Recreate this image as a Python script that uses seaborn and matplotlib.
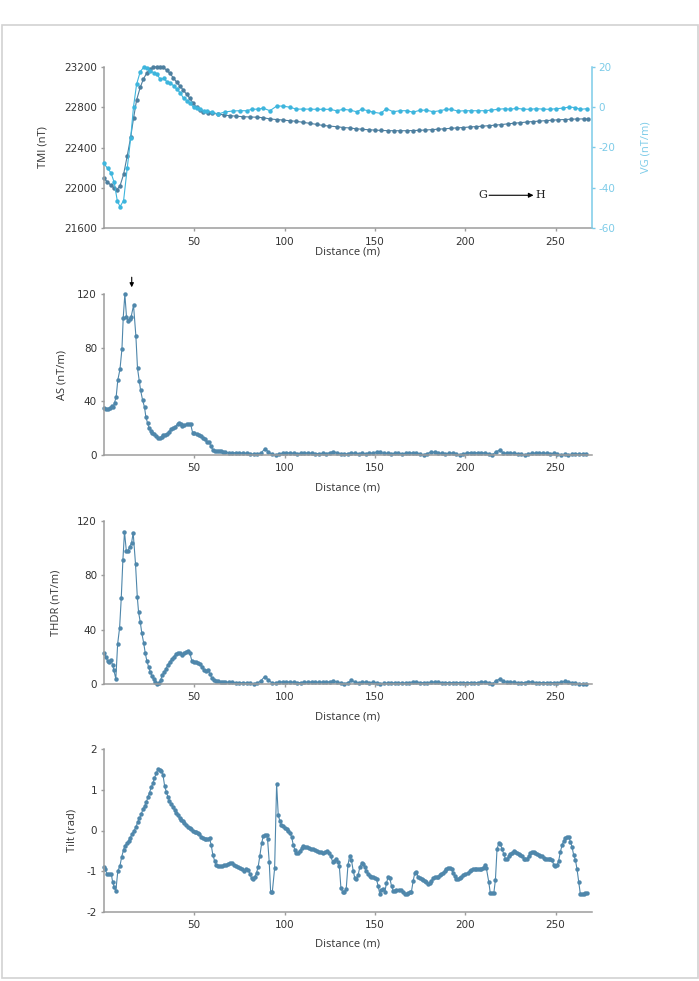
import matplotlib
matplotlib.use("Agg")
import matplotlib.pyplot as plt
from matplotlib.patches import Rectangle
import seaborn as sns
import numpy as np

# ---------------- data ----------------
tmi_x = [0, 1.8, 3.7, 5.5, 7.0, 8.9, 10.9, 12.9, 14.8, 16.4, 18.1, 20.1, 21.8, 23.6, 25.5, 27.3,
         29.2, 31.0, 32.8, 34.7, 36.5, 38.4, 40.2, 42.1, 43.9, 45.8, 47.6, 49.4, 51.3, 53.1, 55.0,
         57.5, 60, 63.3, 66.5, 69.7, 73.3, 77, 80.8, 84.5, 88.2, 92, 95.6, 99, 102.8, 106.6, 110.3,
         114, 117.7, 121, 124.8, 128.8, 132.5, 136, 139.5, 143, 146.5, 150, 153.5, 157, 160.5, 164,
         167.5, 171, 174.5, 178, 181.5, 185, 188.5, 192, 195.5, 199, 202.5, 206, 209.5, 213, 216.5,
         220, 223.5, 227, 230.5, 234, 237.5, 241, 244.5, 248, 251.5, 255, 258.5, 262, 265.5, 268]
tmi_v = [22095, 22062, 22029, 22002, 21979, 22019, 22134, 22316, 22500, 22689, 22870, 22995, 23075,
         23134, 23174, 23193, 23200, 23200, 23193, 23167, 23134, 23091, 23048, 23009, 22969, 22926,
         22887, 22837, 22797, 22771, 22751, 22742, 22737, 22732, 22722, 22715, 22710, 22705, 22702,
         22700, 22695, 22682, 22677, 22672, 22665, 22659, 22649, 22639, 22629, 22619, 22612, 22606,
         22598, 22593, 22586, 22580, 22576, 22572, 22569, 22567, 22566, 22566, 22566, 22568, 22570,
         22573, 22577, 22581, 22585, 22590, 22594, 22598, 22603, 22607, 22611, 22616, 22621, 22627,
         22634, 22640, 22646, 22652, 22657, 22661, 22666, 22670, 22674, 22677, 22680, 22682, 22683,
         22682]

vg_x = [0, 2.0, 3.9, 5.7, 7.4, 8.9, 10.9, 12.9, 14.8, 16.4, 18.1, 20.1, 22.0, 23.8, 25.6, 27.5, 29.3,
        31.2, 33.0, 34.9, 36.7, 38.6, 40.4, 42.3, 44.1, 46.0, 47.8, 49.6, 51.5, 53.3, 55.2, 57.0, 59.6,
        63.3, 67, 71.6, 75.3, 79, 81.7, 85.4, 88.2, 91.9, 95.6, 99.3, 103, 106.6, 110.3, 114, 117.7,
        121.4, 125, 128.8, 132.5, 136.2, 139.9, 142.6, 146.3, 149, 153.1, 156.4, 160.1, 163.8, 167.5,
        171.1, 174.8, 178.5, 182.2, 185.9, 189.6, 192.3, 196, 199.7, 203.4, 207.1, 210.7, 214.4, 218.1,
        221.8, 225, 228.3, 232, 235.7, 239.4, 243, 246.7, 250.4, 254.1, 257.4, 260.6, 263.7, 267.4]
vg_v = [-27.9, -30.3, -32.5, -37.3, -46.3, -49.3, -46.3, -30.3, -15.5, 0.2, 11.3, 17.5, 19.7, 19.2,
        18.0, 17.0, 16.4, 13.7, 14.2, 12.6, 11.8, 10.6, 8.8, 7.1, 4.3, 3.2, 1.9, -0.1, -0.6, -1.1, -2.1,
        -1.9, -2.4, -3.4, -2.4, -1.9, -1.8, -1.8, -1.1, -1.0, -0.5, -1.8, 0.5, 0.5, -0.1, -1.0, -1.0,
        -1.0, -1.1, -1.1, -1.1, -1.8, -1.1, -1.5, -2.3, -1.1, -1.8, -2.5, -3.1, -0.8, -2.3, -1.8, -1.8,
        -2.5, -1.6, -1.5, -2.3, -1.8, -1.1, -1.1, -2.0, -1.8, -1.8, -1.8, -1.8, -1.5, -1.1, -0.8, -1.1,
        -0.6, -1.0, -1.1, -0.8, -1.0, -1.1, -0.8, -0.5, 0.0, -0.2, -1.1, -0.8]

as_x = [0, 1.1, 2.2, 3.3, 4.4, 5.2, 5.9, 6.8, 7.7, 8.9, 10.0, 10.7, 11.6, 12.5, 13.5, 14.2, 15.1, 16.4,
        17.7, 18.6, 19.6, 20.3, 21.4, 22.5, 23.2, 24.2, 25.1, 26.0, 26.9, 27.9, 28.8, 29.9, 30.8, 31.9,
        32.8, 33.9, 35.1, 36.2, 37.1, 38.4, 39.5, 40.8, 41.7, 42.6, 43.5, 44.6, 45.8, 47.0, 48.0, 49.1,
        50.0, 51.3, 52.4, 53.5, 54.6, 55.7, 56.8, 58.1, 59.2, 60.3, 61.4, 62.5, 63.8, 64.9, 66.1,
        67, 69, 71, 73, 75, 77, 79, 81, 83, 85, 87, 89, 91, 93, 95, 97, 99, 101, 103, 105, 107, 109,
        111, 113, 115, 117, 119, 121, 123, 125, 127, 129, 131, 133, 135, 137, 139, 141, 143, 145, 147,
        149, 151, 153, 155, 157, 159, 161, 163, 165, 167, 169, 171, 173, 175, 177, 179, 181, 183, 185,
        187, 189, 191, 193, 195, 197, 199, 201, 203, 205, 207, 209, 211, 213, 215, 217, 219, 221, 223,
        225, 227, 229, 231, 233, 235, 237, 239, 241, 243, 245, 247, 249, 251, 253, 255, 257, 259, 261,
        263, 265, 267]
as_v = [35.3, 34.3, 34.0, 35.3, 36.5, 36.0, 39.0, 43.5, 55.9, 63.9, 79.3, 102.4, 119.8, 103.1, 99.9,
        101.4, 103.1, 111.6, 88.7, 64.6, 55.2, 48.4, 41.0, 35.5, 28.6, 23.6, 19.9, 17.9, 16.6, 15.4,
        14.2, 12.9, 12.4, 13.7, 14.7, 15.2, 15.9, 17.4, 19.4, 20.1, 21.1, 23.1, 24.1, 23.1, 21.6, 22.4,
        23.1, 23.1, 23.1, 16.6, 16.1, 15.7, 15.2, 14.2, 12.9, 11.7, 9.9, 9.9, 6.7, 3.7, 3.2, 3.0, 3.0,
        2.7, 2.2,
        2.0, 1.7, 1.7, 1.7, 1.5, 1.5, 1.2, 0.8, 0.5, 0.8, 1.5, 4.5, 2.5, 0.5, 0.0, 0.5, 1.5, 1.7, 1.5,
        1.2, 1.0, 1.2, 1.5, 1.5, 1.2, 1.0, 1.0, 1.2, 1.0, 1.7, 2.5, 1.7, 1.0, 0.5, 1.0, 1.5, 1.2, 1.0,
        1.2, 1.0, 1.2, 1.5, 2.2, 2.0, 1.2, 1.2, 1.0, 1.2, 1.2, 1.0, 1.2, 1.2, 1.7, 1.7, 0.5, 0.2, 1.0,
        2.2, 2.0, 1.2, 1.2, 1.0, 1.2, 1.5, 0.5, 0.2, 0.7, 1.7, 1.7, 1.7, 1.7, 1.7, 1.5, 1.0, 0.0, 2.5,
        3.5, 1.7, 1.2, 1.5, 1.2, 1.0, 0.5, 0.0, 0.5, 1.5, 1.2, 1.2, 1.5, 1.2, 1.0, 1.2, 0.5, 0.3, 0.5,
        0.0, 0.5, 0.7, 0.7, 0.7, 0.5]

thdr_x = [0, 1.1, 2.0, 3.0, 3.9, 4.8, 5.5, 6.6, 7.6, 8.7, 9.6, 10.5, 11.4, 12.4, 13.3, 14.2, 15.3, 16.2,
          17.5, 18.5, 19.2, 20.1, 21.0, 22.0, 22.9, 23.8, 24.7, 25.6, 26.6, 27.5, 28.4, 29.3, 30.3,
          31.4, 32.3, 33.4, 34.3, 35.4, 36.5, 37.6, 38.7, 39.9, 41.0, 42.1, 43.2, 44.3, 45.4, 46.5,
          47.6, 48.7, 49.8, 50.9, 52.0, 53.1, 54.2, 55.4, 56.5, 57.6, 58.7, 59.8, 60.9, 62.0, 63.1,
          64.6, 66.1,
          67, 69, 71, 73, 75, 77, 79, 81, 83, 85, 87, 89, 91, 93, 95, 97, 99, 101, 103, 105, 107, 109,
          111, 113, 115, 117, 119, 121, 123, 125, 127, 129, 131, 133, 135, 137, 139, 141, 143, 145,
          147, 149, 151, 153, 155, 157, 159, 161, 163, 165, 167, 169, 171, 173, 175, 177, 179, 181,
          183, 185, 187, 189, 191, 193, 195, 197, 199, 201, 203, 205, 207, 209, 211, 213, 215, 217,
          219, 221, 223, 225, 227, 229, 231, 233, 235, 237, 239, 241, 243, 245, 247, 249, 251, 253,
          255, 257, 259, 261, 263, 265, 267]
thdr_v = [22.6, 20.1, 16.9, 16.4, 17.7, 14.0, 10.3, 3.7, 29.4, 41.5, 63.1, 91.0, 112.1, 98.2, 97.9,
          101.1, 103.6, 111.4, 88.3, 63.8, 52.8, 45.9, 37.3, 30.4, 22.6, 16.9, 12.8, 9.1, 5.9, 3.4, 1.2,
          0.2, 1.0, 2.9, 6.6, 8.6, 11.0, 14.0, 16.4, 18.4, 20.1, 22.1, 23.1, 22.6, 21.3, 22.6, 23.8,
          24.5, 22.6, 16.9, 16.4, 16.0, 15.2, 14.5, 12.8, 10.3, 9.6, 10.3, 7.4, 4.2, 2.9, 2.5, 2.0, 1.7,
          1.5,
          1.5, 1.2, 1.2, 1.0, 1.0, 0.8, 0.7, 0.5, 0.3, 0.7, 2.5, 5.5, 3.0, 0.8, 0.5, 1.2, 1.7, 1.5, 1.5,
          1.2, 1.0, 1.0, 1.2, 1.5, 1.5, 1.2, 1.2, 1.5, 1.2, 1.7, 2.2, 1.5, 0.5, 0.3, 1.0, 2.7, 1.5, 0.5,
          1.5, 1.2, 1.0, 1.2, 1.0, 0.3, 0.5, 0.7, 1.0, 0.7, 0.7, 0.7, 0.7, 1.0, 1.5, 1.5, 1.0, 1.0, 1.0,
          1.2, 1.5, 1.5, 1.0, 1.0, 1.0, 1.0, 1.0, 1.0, 1.0, 1.0, 1.0, 1.0, 1.0, 1.2, 1.7, 1.0, 0.0, 2.5,
          3.5, 2.0, 1.5, 1.7, 1.2, 1.0, 1.0, 1.0, 1.7, 1.5, 1.0, 1.0, 1.0, 1.0, 1.0, 1.0, 1.0, 1.2, 2.0,
          1.5, 1.0, 0.5, 0.3, 0.2, 0.2]

tilt_x = [0, 0.7, 1.8, 3.0, 4.1, 4.8, 5.7, 6.6, 7.7, 8.9, 9.8, 10.9, 11.8, 12.7, 13.7, 14.6, 15.5, 16.6,
          17.7, 18.8, 19.7, 20.7, 21.6, 22.5, 23.4, 24.4, 25.3, 26.2, 27.1, 28.0, 29.0, 29.9, 30.8,
          31.7, 32.7, 33.6, 34.5, 35.4, 36.3, 37.3, 38.2, 39.1, 40.0, 41.0, 41.9, 42.8, 43.7, 44.6,
          45.6, 46.5, 47.4, 48.3, 49.3, 50.2, 51.1, 52.0, 52.9, 53.9, 54.8, 55.7, 56.6, 57.6, 58.5,
          59.4, 60.3, 61.3, 62.2, 63.1, 64.2, 65.3, 66.4, 67.5, 68.6, 69.7, 70.8, 72.0, 73.1, 74.2,
          75.3, 76.4, 77.5, 78.6, 79.7, 80.8, 81.7, 82.7, 83.6, 84.5, 85.4, 86.3, 87.3, 88.2, 89.1,
          90.0, 90.6, 91.5, 92.3, 93.2, 94.5, 95.6, 96.5, 97.4, 98.3, 99.3, 100.2, 101.1, 102.0, 102.9,
          103.9, 104.8, 105.7, 106.6, 107.6, 108.5, 109.4, 110.3, 111.4, 112.5, 113.7, 114.8, 115.9,
          117.0, 118.1, 119.2, 120.3, 121.4, 122.5, 123.6, 124.7, 125.6, 126.6, 127.5, 128.4, 129.5,
          130.3, 131.2, 132.2, 133.1, 134.1, 135.1, 136.0, 137.0, 138.0, 138.9, 139.8, 140.7, 141.7,
          142.6, 143.5, 144.4, 145.3, 146.3, 147.2, 148.1, 149.0, 150.0, 150.9, 151.8, 152.7, 153.6,
          154.6, 155.5, 156.4, 157.3, 158.3, 159.2, 160.1, 161.0, 161.9, 163.2, 164.7, 165.6, 166.5,
          167.5, 168.4, 169.3, 170.2, 171.2, 172.1, 173.0, 173.9, 174.8, 175.8, 176.7, 177.6, 178.5,
          179.5, 180.4, 181.3, 182.2, 183.1, 184.1, 185.0, 185.9, 186.8, 187.8, 188.7, 189.6, 190.5,
          191.4, 192.4, 193.3, 194.2, 195.1, 196.1, 197.0, 197.9, 198.8, 199.7, 201.6, 202.5, 203.4,
          204.3, 205.3, 206.2, 207.1, 208.0, 209.0, 209.9, 210.8, 211.7, 213.0, 213.9, 214.9, 215.8,
          216.7, 217.6, 218.5, 219.5, 220.4, 221.3, 222.2, 223.2, 224.1, 225.0, 225.9, 226.8, 227.8,
          228.7, 229.6, 230.5, 231.4, 232.4, 233.3, 234.2, 235.1, 236.1, 237.0, 237.9, 238.8, 239.7,
          240.7, 241.6, 242.5, 243.4, 244.4, 245.3, 246.2, 247.1, 248.1, 249.0, 249.9, 250.8, 251.7,
          252.7, 253.6, 254.5, 255.4, 256.4, 257.3, 258.2, 259.1, 260.0, 261.0, 261.9, 262.8, 263.7,
          264.7, 265.6, 266.5, 267.4]
tilt_v = [-0.89, -0.96, -1.08, -1.08, -1.07, -1.26, -1.40, -1.49, -1.00, -0.87, -0.66, -0.47, -0.37,
          -0.32, -0.25, -0.18, -0.09, -0.01, 0.08, 0.22, 0.30, 0.41, 0.52, 0.60, 0.69, 0.82, 0.93, 1.06,
          1.16, 1.30, 1.41, 1.51, 1.48, 1.46, 1.37, 1.10, 0.96, 0.83, 0.73, 0.65, 0.57, 0.51, 0.44, 0.37,
          0.30, 0.26, 0.24, 0.19, 0.14, 0.09, 0.05, 0.03, -0.01, -0.04, -0.04, -0.05, -0.09, -0.15,
          -0.19, -0.21, -0.22, -0.20, -0.19, -0.36, -0.60, -0.75, -0.85, -0.87, -0.87, -0.87, -0.86,
          -0.84, -0.83, -0.79, -0.81, -0.85, -0.87, -0.91, -0.93, -0.96, -0.99, -0.96, -0.97, -1.06,
          -1.18, -1.20, -1.14, -1.04, -0.89, -0.63, -0.32, -0.14, -0.11, -0.11, -0.22, -0.77, -1.52,
          -1.52, -0.93, 1.15, 0.38, 0.23, 0.14, 0.10, 0.07, 0.04, 0.00, -0.05, -0.16, -0.35, -0.48,
          -0.55, -0.55, -0.50, -0.44, -0.38, -0.40, -0.41, -0.44, -0.46, -0.46, -0.48, -0.50, -0.52,
          -0.54, -0.55, -0.53, -0.50, -0.55, -0.64, -0.77, -0.75, -0.71, -0.77, -0.87, -1.42, -1.52,
          -1.52, -1.45, -0.85, -0.63, -0.73, -0.99, -1.18, -1.20, -1.10, -0.89, -0.81, -0.83, -0.91,
          -0.99, -1.06, -1.11, -1.14, -1.15, -1.18, -1.20, -1.37, -1.56, -1.47, -1.45, -1.51, -1.30,
          -1.14, -1.18, -1.37, -1.48, -1.49, -1.47, -1.47, -1.47, -1.51, -1.56, -1.57, -1.55, -1.52,
          -1.51, -1.24, -1.04, -1.01, -1.14, -1.18, -1.20, -1.22, -1.24, -1.28, -1.32, -1.30, -1.24,
          -1.18, -1.15, -1.15, -1.14, -1.10, -1.07, -1.04, -0.99, -0.96, -0.93, -0.93, -0.96, -1.04,
          -1.12, -1.20, -1.20, -1.18, -1.14, -1.10, -1.07, -1.04, -1.00, -0.97, -0.96, -0.94, -0.94,
          -0.94, -0.94, -0.94, -0.92, -0.85, -0.93, -1.26, -1.55, -1.55, -1.55, -1.22, -0.46, -0.32,
          -0.34, -0.46, -0.58, -0.69, -0.70, -0.63, -0.58, -0.55, -0.51, -0.52, -0.55, -0.58, -0.60,
          -0.64, -0.69, -0.71, -0.70, -0.63, -0.56, -0.52, -0.53, -0.56, -0.59, -0.61, -0.63, -0.64,
          -0.67, -0.69, -0.71, -0.71, -0.71, -0.73, -0.85, -0.87, -0.85, -0.75, -0.52, -0.36, -0.26,
          -0.18, -0.15, -0.15, -0.28, -0.40, -0.60, -0.73, -0.96, -1.26, -1.56, -1.57, -1.56, -1.55,
          -1.55]

x_ticks = [50, 100, 150, 200, 250]

# ---------------- style ----------------
sns.set_style("ticks")
plt.rcParams["font.family"] = ["DejaVu Sans"]
plt.rcParams["axes.unicode_minus"] = False

W, H = 699, 981
fig = plt.figure(figsize=(W / 100, H / 100), dpi=100)
fig.patches.append(Rectangle((1.5 / W, 1 - 978 / H), 696 / W, (978 - 25) / H,
                             transform=fig.transFigure, fill=False, ec="#d2d2d2", lw=1.2))

DARK = "#4f87ab"
DARK_TMI = "#4d7f9f"
CYAN = "#3db5dd"
VGAX = "#7ccbe8"
SPINE = "#9c9c9c"
TXT = "#333333"
LABFONT = dict(family=["Open Sans", "DejaVu Sans"], size=8, color=TXT)
TICKSIZE = 7.5

left, right = 103.9, 591.7


def make_ax(top_px, bot_px):
    ax = fig.add_axes([left / W, 1 - bot_px / H, (right - left) / W, (bot_px - top_px) / H])
    for s in ["top", "right"]:
        ax.spines[s].set_visible(False)
    for s in ["left", "bottom"]:
        ax.spines[s].set_color(SPINE)
        ax.spines[s].set_linewidth(1.1)
    ax.tick_params(axis="both", colors=SPINE, labelcolor=TXT, labelsize=TICKSIZE, width=1, length=2.5)
    ax.tick_params(axis="y", pad=2.5)
    ax.tick_params(axis="x", pad=3.5)
    ax.set_xlim(0, 270)
    ax.set_xticks(x_ticks)
    return ax


def finish(ax, ylabel, label_cx, top_px, bot_px, xlab_cy):
    hpx = bot_px - top_px
    ax.set_ylabel(ylabel, **LABFONT, va="center", ha="center")
    ax.yaxis.set_label_coords((label_cx - left) / (right - left), 0.5)
    ax.set_xlabel("Distance (m)", **LABFONT, va="center", ha="center")
    ax.xaxis.set_label_coords(0.5, -(xlab_cy - bot_px) / hpx)


line_kw = dict(marker="o", markersize=3.2, markeredgewidth=0, linewidth=0.8, clip_on=False)

# Panel 1: TMI + VG
t1, b1 = 66.7, 228.3
ax1 = make_ax(t1, b1)
sns.lineplot(x=tmi_x, y=tmi_v, ax=ax1, color=DARK_TMI, **line_kw)
ax1.set_ylim(21600, 23200)
ax1.set_yticks([21600, 22000, 22400, 22800, 23200])
finish(ax1, "TMI (nT)", 43, t1, b1, 252)

ax1b = ax1.twinx()
sns.lineplot(x=vg_x, y=vg_v, ax=ax1b, color=CYAN, **line_kw)
ax1b.set_ylim(-60, 20)
ax1b.set_yticks([-60, -40, -20, 0, 20])
for s in ["top", "left", "bottom"]:
    ax1b.spines[s].set_visible(False)
ax1b.spines["right"].set_color(VGAX)
ax1b.spines["right"].set_linewidth(1.1)
ax1b.tick_params(axis="y", colors=VGAX, labelcolor=VGAX, labelsize=TICKSIZE, width=1, length=2.5, pad=2.5)
ax1b.set_ylabel("VG (nT/m)", family=["Open Sans", "DejaVu Sans"], size=8, color=VGAX,
                va="center", ha="center")
ax1b.yaxis.set_label_coords((646 - left) / (right - left), 0.5)
ax1b.set_xlim(0, 270)

# G -> H annotation
ax1.text(209.5, 21927, "G", family=["DejaVu Serif"], size=8, color="#222222", ha="center", va="center")
ax1.text(241.6, 21927, "H", family=["DejaVu Serif"], size=8, color="#222222", ha="center", va="center")
ax1.annotate("", xy=(237.8, 21927), xytext=(213.2, 21927),
             arrowprops=dict(arrowstyle="-|>", color="black", lw=0.8, mutation_scale=7,
                             shrinkA=0, shrinkB=0))

# Panel 2: AS
t2, b2 = 294, 455
ax2 = make_ax(t2, b2)
sns.lineplot(x=as_x, y=as_v, ax=ax2, color=DARK, **line_kw)
ax2.set_ylim(0, 120)
ax2.set_yticks([0, 40, 80, 120])
finish(ax2, "AS (nT/m)", 61.7, t2, b2, 488.3)
ax2.annotate("", xy=(15.4, 125.0), xytext=(15.4, 132.5), annotation_clip=False,
             arrowprops=dict(arrowstyle="-|>", color="black", lw=0.8, mutation_scale=6,
                             shrinkA=0, shrinkB=0))

# Panel 3: THDR
t3, b3 = 521, 684
ax3 = make_ax(t3, b3)
sns.lineplot(x=thdr_x, y=thdr_v, ax=ax3, color=DARK, **line_kw)
ax3.set_ylim(0, 120)
ax3.set_yticks([0, 40, 80, 120])
finish(ax3, "THDR (nT/m)", 56, t3, b3, 716.7)

# Panel 4: Tilt
t4, b4 = 749.3, 911.7
ax4 = make_ax(t4, b4)
sns.lineplot(x=tilt_x, y=tilt_v, ax=ax4, color=DARK, **line_kw)
ax4.set_ylim(-2, 2)
ax4.set_yticks([-2, -1, 0, 1, 2])
finish(ax4, "Tilt (rad)", 72.3, t4, b4, 944.3)

fig.savefig("out.png", dpi=100, facecolor="white")
